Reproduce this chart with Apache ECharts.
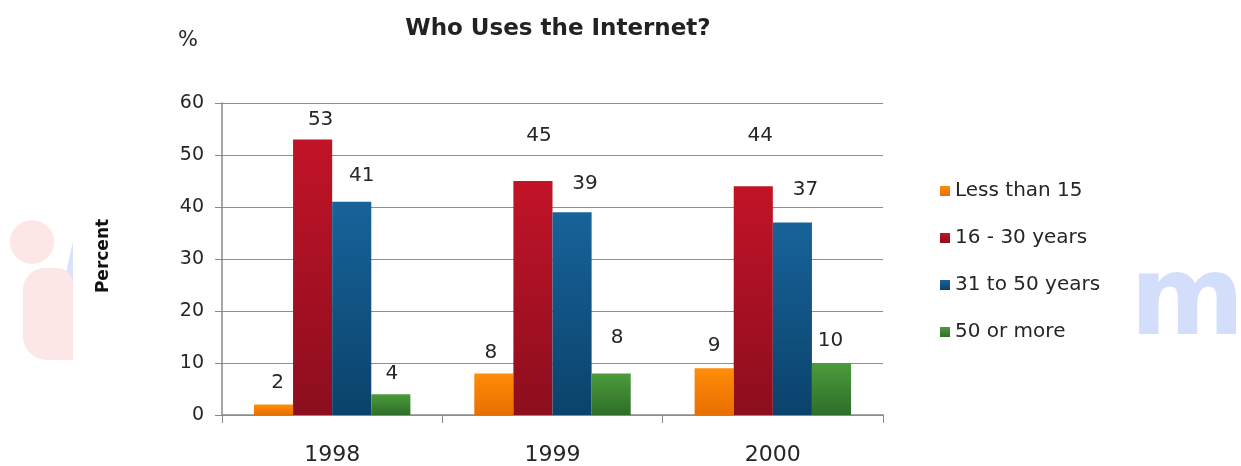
<!DOCTYPE html>
<html>
<head>
<meta charset="utf-8">
<script src="https://cdn.jsdelivr.net/npm/echarts@6/dist/echarts.min.js"></script>
<style>
html,body{margin:0;padding:0;background:#fff;}
#c{width:1241px;height:466px;}
</style>
</head>
<body>
<div id="c"></div>
<script>
const categories = ['1998', '1999', '2000'];
const seriesNames = ['Less than 15', '16 - 30 years', '31 to 50 years', '50 or more'];
const lessThan15 = [2, 8, 9];
const age16to30 = [53, 45, 44];
const age31to50 = [41, 39, 37];
const age50plus = [4, 8, 10];
const yTicks = [0, 10, 20, 30, 40, 50, 60];

// styling (kept separate from the data)
const colors = [
  ['#FF8C0A', '#E86F00'],
  ['#C21328', '#8C0E1E'],
  ['#17639A', '#0B426B'],
  ['#4B9C3B', '#2F6E29']
];
// per-label placement tweaks, mimicking the hand-placed labels of the original
const labelGap = [[12, 11, 12], [10, 35, 40], [16, 18, 23], [10, 26, 12]];
const labelDx = [[4, -3, 0], [8, 6, 7], [10, 13, 13], [1, 6, -1]];
const values = [lessThan15, age16to30, age31to50, age50plus];

const font = '"DejaVu Sans", sans-serif';
const txt = '#262626';
const chart = echarts.init(document.getElementById('c'));
chart.setOption({
  animation: false,
  backgroundColor: '#fff',
  textStyle: {fontFamily: font},
  color: colors.map(c => c[1]),
  grid: {left: 222, right: 358, top: 103, bottom: 49},
  legend: {
    orient: 'vertical', left: 935, top: 176, itemGap: 27,
    itemWidth: 10, itemHeight: 10, icon: 'rect',
    textStyle: {fontSize: 20, color: txt, fontFamily: font},
    data: seriesNames
  },
  xAxis: {
    type: 'category', data: categories,
    axisLine: {lineStyle: {color: '#8a8a8a', width: 1.5}},
    axisTick: {show: true, length: 8, lineStyle: {color: '#8a8a8a'}},
    axisLabel: {fontSize: 22, color: txt, margin: 29, fontFamily: font}
  },
  yAxis: {
    type: 'value', min: yTicks[0], max: yTicks[yTicks.length - 1], interval: 10,
    axisLine: {show: true, lineStyle: {color: '#8a8a8a', width: 1.5}},
    axisTick: {show: true, length: 7, lineStyle: {color: '#8a8a8a'}},
    splitLine: {lineStyle: {color: '#8e8e8e', width: 1.2}},
    axisLabel: {fontSize: 19, color: txt, margin: 18, fontFamily: font}
  },
  series: seriesNames.map((n, i) => ({
    name: n, type: 'bar',
    data: values[i].map((v, j) => ({
      value: v,
      label: {distance: labelGap[i][j], offset: [labelDx[i][j], 0]}
    })),
    barGap: '0%', barCategoryGap: '29%',
    itemStyle: {color: new echarts.graphic.LinearGradient(0, 0, 0, 1, [
      {offset: 0, color: colors[i][0]}, {offset: 1, color: colors[i][1]}])},
    label: {show: true, position: 'top', fontSize: 20, color: txt, fontFamily: font}
  })),
  graphic: [
    {type: 'polygon', shape: {points: [[73, 241], [64, 282], [73, 306]]}, style: {fill: '#D9E2FB'}, z: -1},
    {type: 'circle', shape: {cx: 32, cy: 242, r: 22}, style: {fill: '#FDE6E6'}, z: -1},
    {type: 'rect', shape: {x: 23, y: 268, width: 50, height: 92, r: [22, 16, 0, 24]}, style: {fill: '#FDE6E6'}, z: -1},
    {type: 'text', x: 1130, y: 360, style: {text: 'm', font: 'bold 110px ' + font, fill: '#D3DEFB', verticalAlign: 'bottom'}, z: -1},
    {type: 'text', x: 558, y: 29, style: {text: 'Who Uses the Internet?', font: 'bold 23px ' + font, fill: '#222', align: 'center', verticalAlign: 'middle'}},
    {type: 'text', x: 188, y: 41, style: {text: '%', font: '21px ' + font, fill: txt, align: 'center', verticalAlign: 'middle'}},
    {type: 'text', x: 104, y: 256, rotation: Math.PI / 2, style: {text: 'Percent', font: 'bold 17px ' + font, fill: '#111', align: 'center', verticalAlign: 'middle'}}
  ]
});
</script>
</body>
</html>
